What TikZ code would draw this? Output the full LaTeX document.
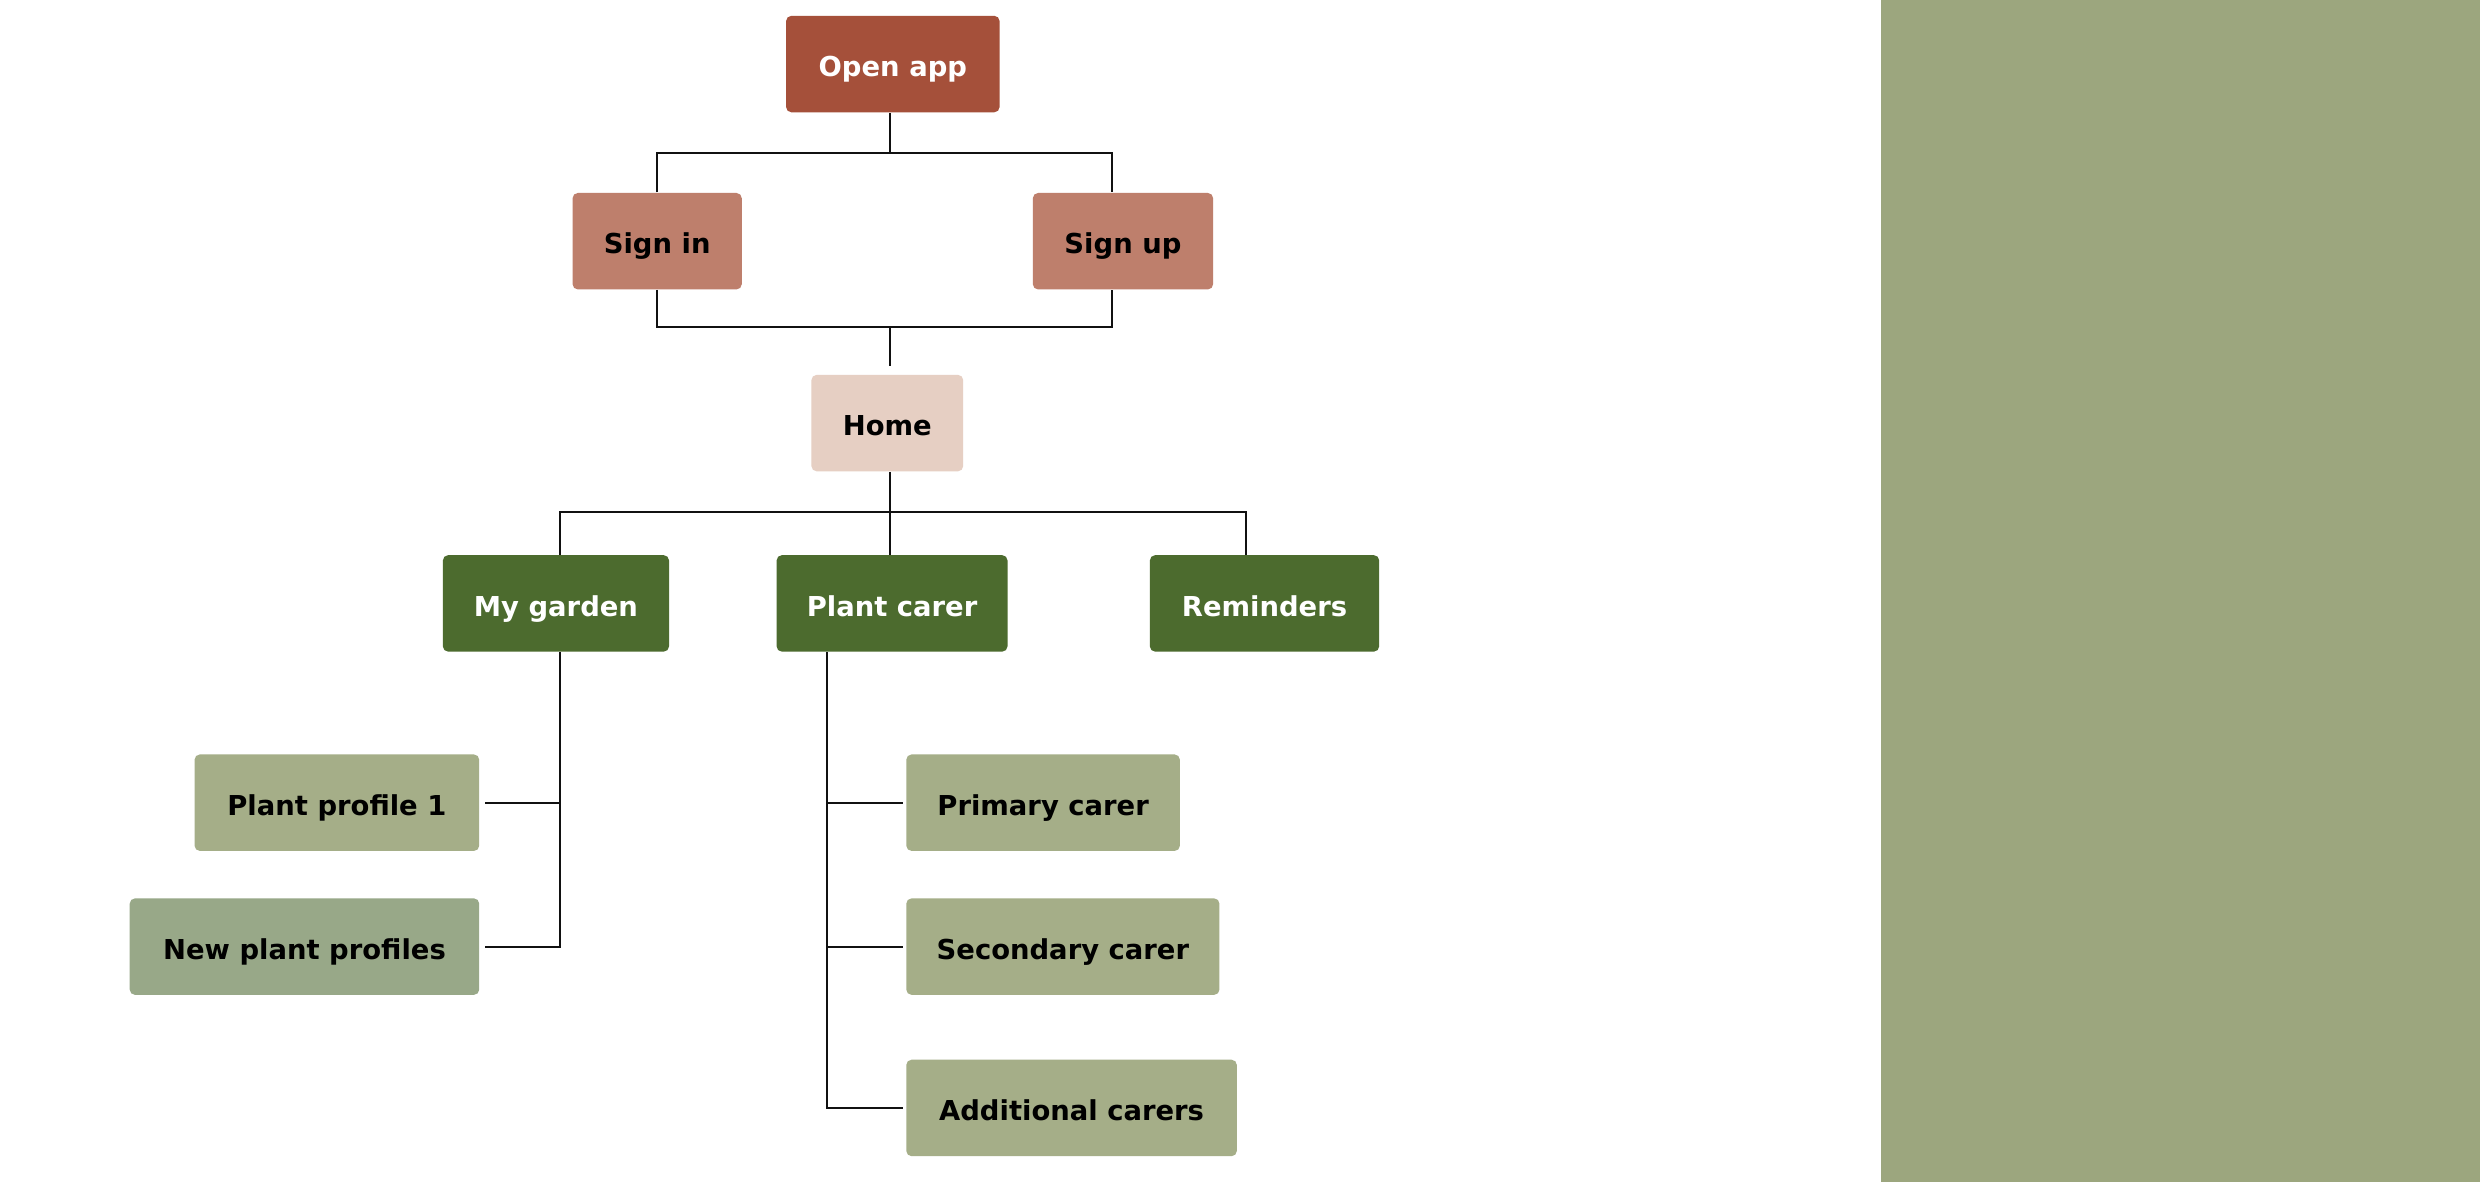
\documentclass[tikz,border=0pt]{standalone}
\usepackage{fontspec}
\setmainfont{DejaVu Sans}
\usetikzlibrary{calc}
\definecolor{cOpen}{HTML}{A5503A}
\definecolor{cSign}{HTML}{BE7F6C}
\definecolor{cHome}{HTML}{E6CFC3}
\definecolor{cDark}{HTML}{4C6B2E}
\definecolor{cLight}{HTML}{A5AE88}
\definecolor{cLight2}{HTML}{98A888}
\definecolor{cPanel}{HTML}{9CA67E}
\definecolor{cLine}{HTML}{111111}
\begin{document}
\begin{tikzpicture}[x=0.6pt,y=-0.6pt,
  box/.style={rectangle, rounded corners=2pt, minimum height=61*0.6pt, inner sep=0pt,
    text height=9.6pt, text depth=0pt,
    font=\fontsize{10.4}{12}\selectfont\bfseries, text=black},
  wbox/.style={box, text=white},
  conn/.style={draw=cLine, line width=0.75pt}]
\fill[white] (0,0) rectangle (1568,747);
\fill[cPanel] (1189,0) rectangle (1568,747);
\useasboundingbox (0,0) rectangle (1568,747);

\node[wbox, fill=cOpen, minimum width=135*0.6pt] (open) at (564.5,40.5) {Open app};
\node[box, fill=cSign, minimum width=107*0.6pt] (signin) at (415.5,152.5) {Sign in};
\node[box, fill=cSign, minimum width=114*0.6pt] (signup) at (710,152.5) {Sign up};
\node[box, fill=cHome, minimum width=96*0.6pt] (home) at (561,267.5) {Home};
\node[wbox, fill=cDark, minimum width=143*0.6pt] (garden) at (351.5,381.5) {My garden};
\node[wbox, fill=cDark, minimum width=146*0.6pt] (carer) at (564,381.5) {Plant carer};
\node[wbox, fill=cDark, minimum width=145*0.6pt] (remind) at (799.5,381.5) {Reminders};
\node[box, fill=cLight, minimum width=180*0.6pt] (pp1) at (213,507.5) {Plant profile 1};
\node[box, fill=cLight2, minimum width=221*0.6pt] (npp) at (192.5,598.5) {New plant profiles};
\node[box, fill=cLight, minimum width=173*0.6pt] (prim) at (659.5,507.5) {Primary carer};
\node[box, fill=cLight, minimum width=198*0.6pt] (sec) at (672,598.5) {Secondary carer};
\node[box, fill=cLight, minimum width=209*0.6pt] (add) at (677.5,700.5) {Additional carers};

% Open app -> sign in / sign up
\coordinate (j1) at (563,97);
\draw[conn] (open.south -| j1) -- (j1);
\draw[conn] (signin.north) |- (j1) -| ([xshift=-4.2pt]signup.north);
% sign in / sign up -> home
\coordinate (j2) at (563,207);
\draw[conn] (signin.south) |- (j2) -| ([xshift=-4.2pt]signup.south);
\path ([yshift=3pt]home.north) coordinate (h3);
\draw[conn] (j2) -- (h3 -| j2);
% home -> level 2
\coordinate (j3) at (563,324);
\draw[conn] (home.south -| j3) -- (j3);
\draw[conn] ([xshift=1.5pt]garden.north) |- (j3) -| ([xshift=-6.9pt]remind.north);
\draw[conn] (j3) -- (carer.north -| j3);
% my garden branch
\coordinate (g) at ([xshift=1.5pt]garden.south);
\draw[conn] (g) |- ([xshift=1.8pt]npp.east);
\draw[conn] (g |- pp1.east) -- ([xshift=1.8pt]pp1.east);
% plant carer branch
\coordinate (c) at ([xshift=-24.6pt]carer.south);
\draw[conn] (c) |- ([xshift=-1.2pt]add.west);
\draw[conn] (c |- prim.west) -- ([xshift=-1.2pt]prim.west);
\draw[conn] (c |- sec.west) -- ([xshift=-1.2pt]sec.west);
\end{tikzpicture}
\end{document}
